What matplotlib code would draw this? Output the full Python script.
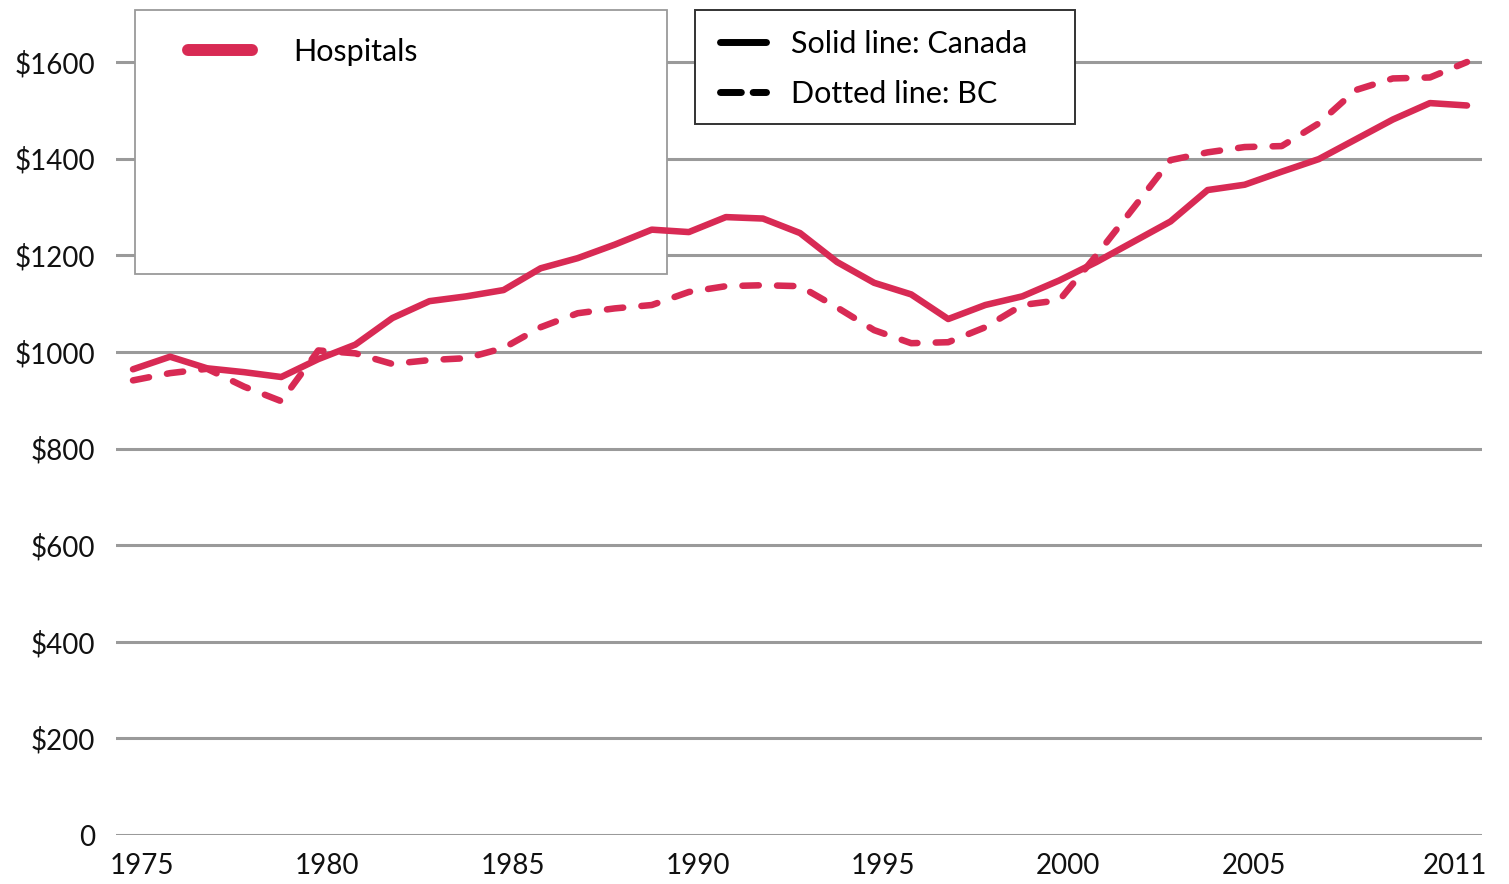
import matplotlib
matplotlib.use("Agg")
import matplotlib.pyplot as plt
import matplotlib.transforms as mtransforms
from matplotlib.lines import Line2D
from matplotlib.patches import Rectangle

years = list(range(1975, 2012))
canada = [964, 990, 966, 958, 948, 985, 1015, 1070, 1105, 1115,
          1128, 1173, 1194, 1222, 1253, 1248, 1279, 1276, 1246, 1186,
          1143, 1119, 1068, 1097, 1115, 1148, 1186, 1228, 1270, 1335,
          1346, 1373, 1399, 1440, 1481, 1515, 1510]
bc = [941, 956, 965, 928, 898, 1003, 997, 975, 983, 987,
      1008, 1051, 1080, 1090, 1097, 1124, 1136, 1138, 1136, 1092,
      1045, 1018, 1020, 1051, 1097, 1107, 1200, 1298, 1397, 1413,
      1424, 1426, 1473, 1542, 1566, 1568, 1600]
xticks = [1975, 1980, 1985, 1990, 1995, 2000, 2005, 2011]
yticks = [0, 200, 400, 600, 800, 1000, 1200, 1400, 1600]
ylabels = ["0", "$200", "$400", "$600", "$800", "$1000", "$1200", "$1400", "$1600"]

RED = "#d82a54"
plt.rcParams["font.family"] = ["Lato", "DejaVu Sans"]

W, H = 1509, 884
fig = plt.figure(figsize=(W / 100, H / 100), dpi=100)
ax = fig.add_axes([116 / W, (H - 835) / H, (1482 - 116) / W, 821.3 / H])

ax.plot(years, canada, color=RED, lw=4.7, solid_capstyle="round", solid_joinstyle="round", zorder=3)
ax.plot(years, bc, color=RED, lw=4.7, linestyle=(0, (2.5, 2.8)), dash_capstyle="round", zorder=3)

ax.set_xlim(1974.541, 2011.405)
ax.set_ylim(0, 1700)
ax.set_yticks(yticks)
ax.set_yticklabels(ylabels)
ax.set_xticks(xticks)
ax.set_xticklabels([str(x) for x in xticks])
ax.tick_params(axis="y", length=0, pad=15, labelsize=20, labelcolor="#111111")
ax.tick_params(axis="x", length=0, pad=13, labelsize=20, labelcolor="#111111")
for i, lab in enumerate(ax.get_xticklabels()):
    dx = -12 if i == len(xticks) - 1 else 9
    lab.set_transform(lab.get_transform() + mtransforms.ScaledTranslation(dx / 100, 0, fig.dpi_scale_trans))
for s in ax.spines.values():
    s.set_visible(False)
ax.set_axisbelow(True)
ax.grid(axis="y", color="#9a9a9a", lw=2.2)
ax.grid(axis="x", visible=False)

# legend boxes
ax.add_patch(Rectangle((135 / W, 1 - 274 / H), (667 - 135) / W, (274 - 10) / H,
                       transform=fig.transFigure, facecolor="white", edgecolor="#9a9a9a",
                       lw=1.3, zorder=1.5, clip_on=False))
ax.add_patch(Rectangle((695 / W, 1 - 124 / H), (1075 - 695) / W, (124 - 10) / H,
                       transform=fig.transFigure, facecolor="white", edgecolor="#333333",
                       lw=1.4, zorder=4, clip_on=False))

LFS = 22
fs_px = LFS * 100 / 72
h1 = [Line2D([], [], color=RED, lw=8.6, solid_capstyle="round")]
leg1 = ax.legend(h1, ["Hospitals"], loc="upper left",
                 bbox_to_anchor=(188 / W, 1 - 38 / H), bbox_transform=fig.transFigure,
                 frameon=False, borderpad=0, borderaxespad=0,
                 handlelength=64 / fs_px, handletextpad=(293 - 252) / fs_px,
                 fontsize=LFS)
ax.add_artist(leg1)

h2 = [Line2D([], [], color="black", lw=5, solid_capstyle="round"),
      Line2D([], [], color="black", lw=5, linestyle=(0, (3.0, 1.7)), dash_capstyle="round")]
leg2 = ax.legend(h2, ["Solid line: Canada", "Dotted line: BC"], loc="upper left",
                 bbox_to_anchor=(720 / W, 1 - 30 / H), bbox_transform=fig.transFigure,
                 frameon=False, borderpad=0, borderaxespad=0,
                 handlelength=46 / fs_px, handletextpad=(791 - 766) / fs_px,
                 labelspacing=0.72, fontsize=LFS)
leg2.set_zorder(5)

fig.savefig("out.png", dpi=100)
